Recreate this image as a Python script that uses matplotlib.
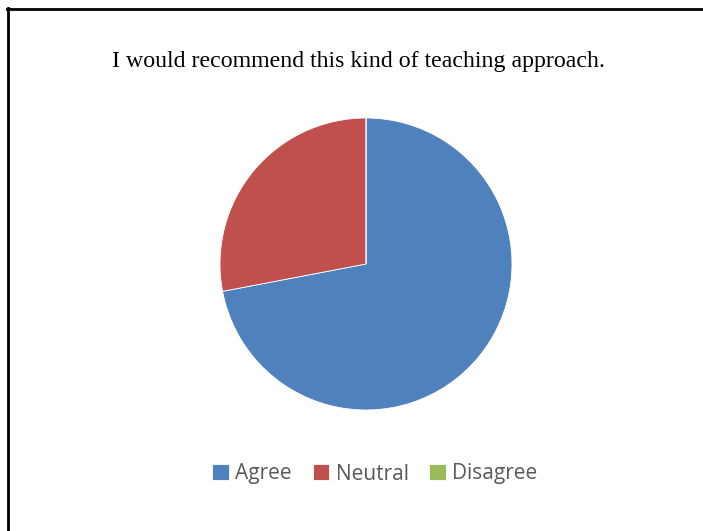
import matplotlib.pyplot as plt
from matplotlib.lines import Line2D

labels = ['Agree', 'Neutral', 'Disagree']
counts = [18, 7, 0]
colors = ['#4F81BD', '#C0504D', '#9BBB59']
title = 'I would recommend this kind of teaching approach.'

W, H = 703, 531
fig = plt.figure(figsize=(W/100, H/100), dpi=100)

# pie axes placed by pixel box (centre 366,264 radius 146)
cx, cy, r = 366, 264, 146
ax = fig.add_axes([(cx-r)/W, (H-cy-r)/H, 2*r/W, 2*r/H])
wedges, _ = ax.pie(counts, colors=colors, startangle=90, counterclock=False,
                   wedgeprops=dict(edgecolor='white', linewidth=0.6))
ax.set_xlim(-1, 1)
ax.set_ylim(-1, 1)
ax.set_aspect('equal')

fig.text(358/W, 1-61/H, title, ha='center', va='center',
         fontsize=17.2, family='Liberation Serif', color='black')

leg = fig.legend(wedges, labels, loc='center', bbox_to_anchor=(375/W, 1-474/H),
                 ncol=3, frameon=False, handlelength=0.8, handleheight=0.8,
                 handletextpad=0.3, columnspacing=1.0,
                 prop={'family': 'Open Sans', 'size': 15})
for t in leg.get_texts():
    t.set_color('#595959')

# border lines (left and top only are visible)
fig.add_artist(Line2D([8/W, 8/W], [0, 1-8/H], transform=fig.transFigure, color='black', lw=2))
fig.add_artist(Line2D([7/W, 1], [1-8.5/H, 1-8.5/H], transform=fig.transFigure, color='black', lw=2))

fig.savefig('out.png', dpi=100)
